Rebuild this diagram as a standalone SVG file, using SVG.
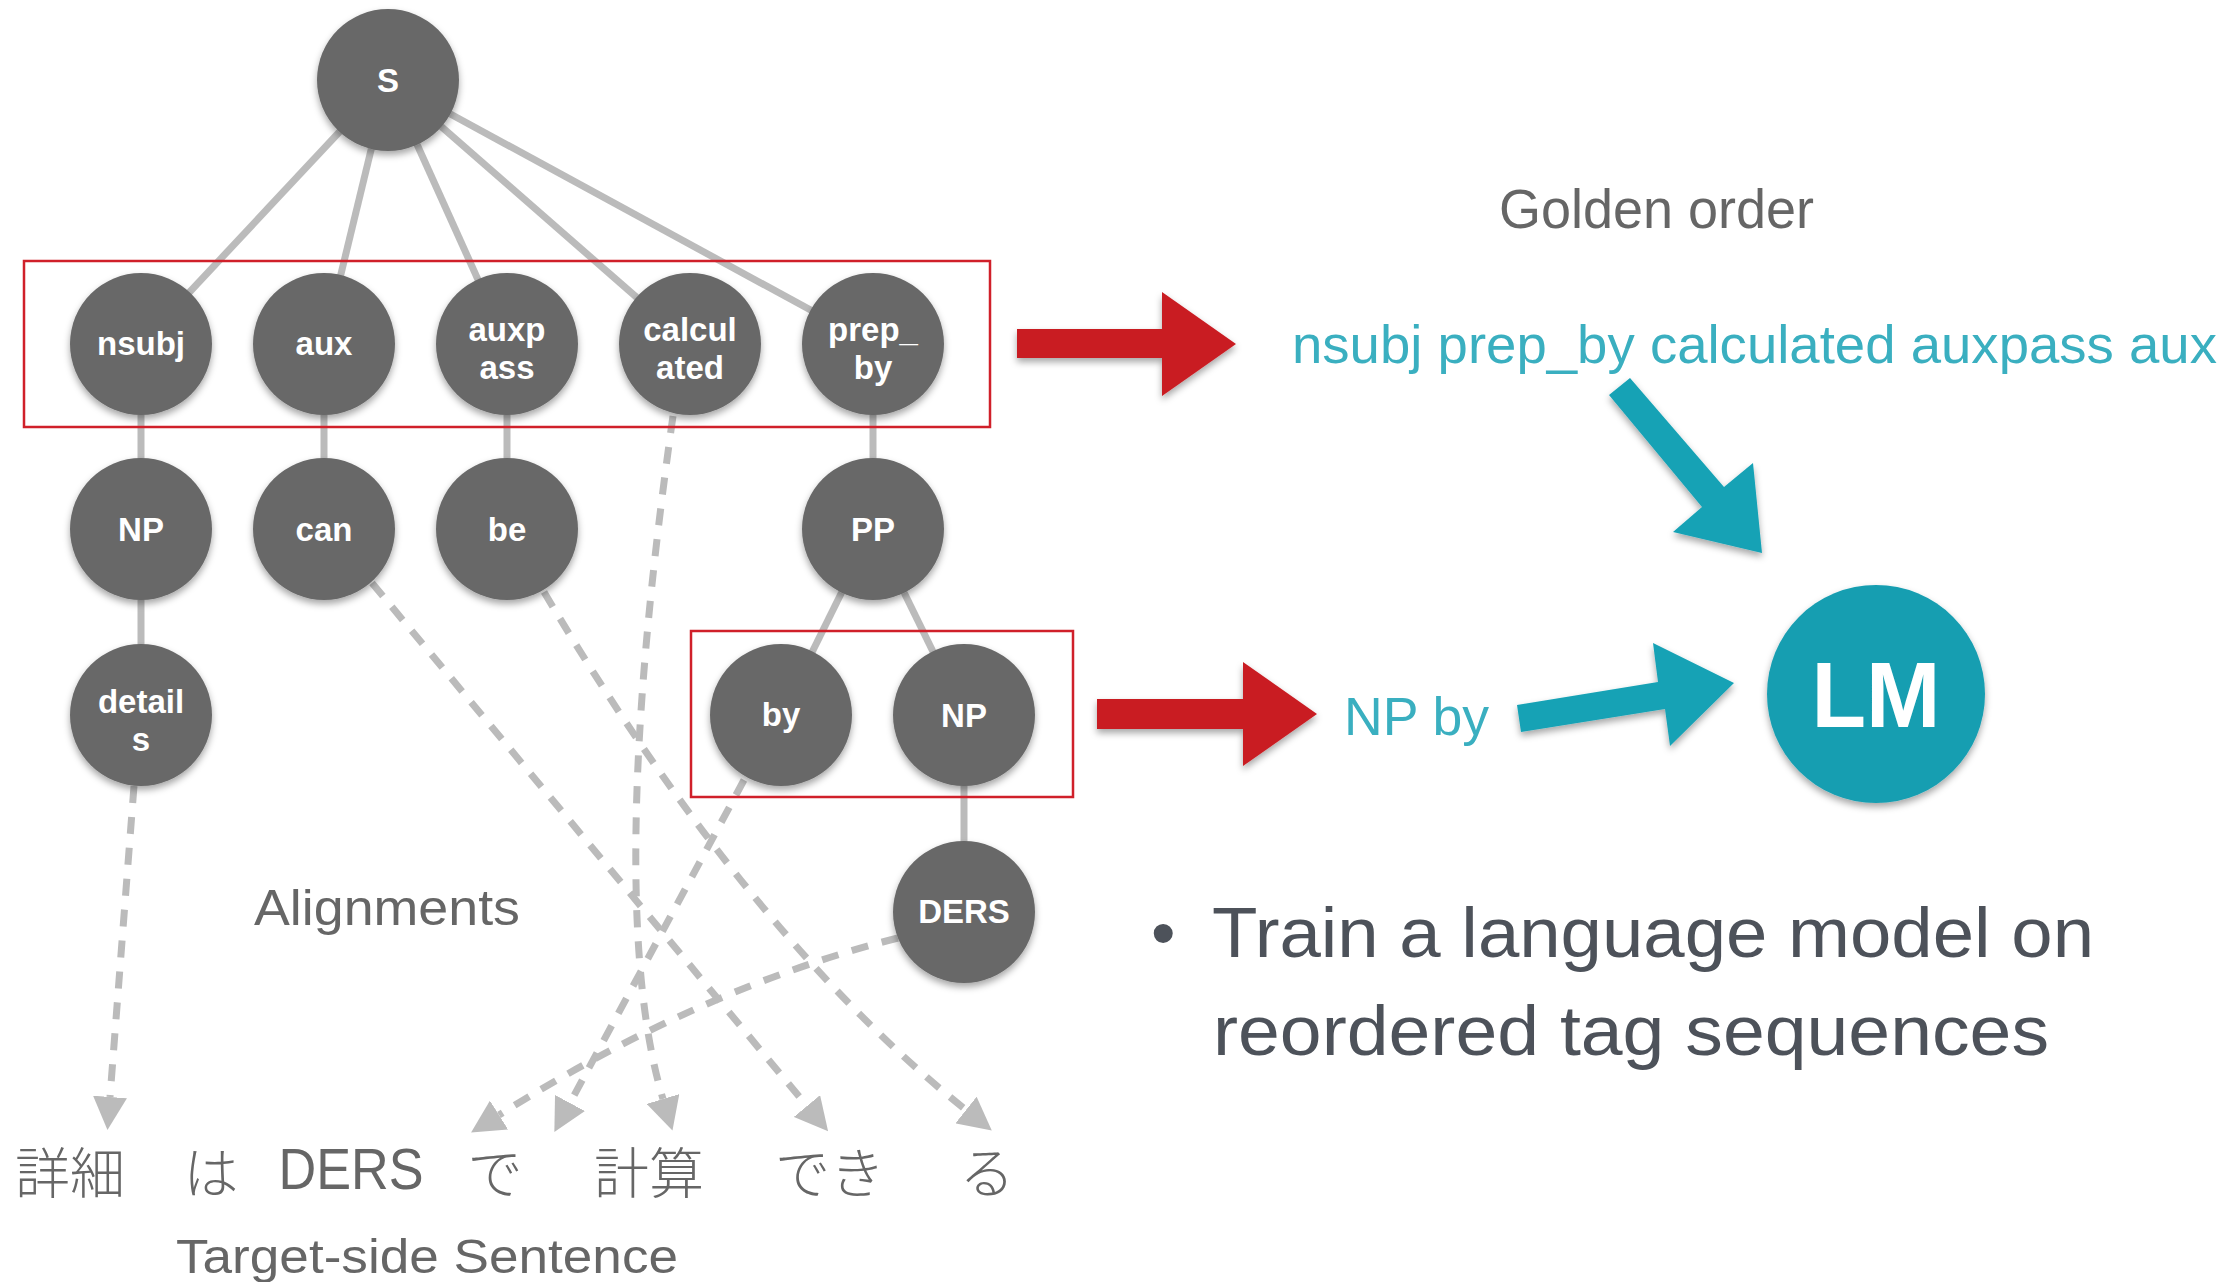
<svg xmlns="http://www.w3.org/2000/svg" width="2239" height="1282" viewBox="0 0 2239 1282">
<style>
.node circle{fill:#686868;filter:url(#sh);}
.lbl{font-family:"Liberation Sans",Arial,sans-serif;font-weight:bold;font-size:33px;fill:#ffffff;text-anchor:middle;}
.edge{stroke:#bbbbbb;stroke-width:7;fill:none;}
.align{stroke:#bbbbbb;stroke-width:7;fill:none;stroke-dasharray:17 14;marker-end:url(#ah);}
.box{fill:none;stroke:#d0202a;stroke-width:2.5;}
.gray{font-family:"Liberation Sans",Arial,sans-serif;fill:#666666;}
.cjk{font-family:"Noto Sans CJK JP","Liberation Sans",sans-serif;font-weight:300;fill:#666666;font-size:55px;text-anchor:middle;}
.teal{font-family:"Liberation Sans",Arial,sans-serif;fill:#3aafc0;}
.red{fill:#c91c23;filter:url(#sh);}
.tarrow{fill:#16a2b5;filter:url(#sh);}
.bullet{font-family:"Liberation Sans",Arial,sans-serif;fill:#4d525a;font-size:70px;}
</style>
<defs>
<filter id="sh" x="-20%" y="-20%" width="140%" height="150%">
<feDropShadow dx="0" dy="4" stdDeviation="3.5" flood-color="#000000" flood-opacity="0.35"/>
</filter>
<marker id="ah" markerUnits="userSpaceOnUse" markerWidth="34" markerHeight="34" refX="0" refY="17" orient="auto">
<path d="M0,0 L33,17 L0,34 z" fill="#bbbbbb"/>
</marker>
</defs>
<rect width="2239" height="1282" fill="#ffffff"/>

<g id="connectors">
<line class="edge" x1="388" y1="80" x2="141" y2="344"/>
<line class="edge" x1="388" y1="80" x2="324" y2="344"/>
<line class="edge" x1="388" y1="80" x2="507" y2="344"/>
<line class="edge" x1="388" y1="80" x2="690" y2="344"/>
<line class="edge" x1="388" y1="80" x2="873" y2="344"/>
<line class="edge" x1="141" y1="344" x2="141" y2="529"/>
<line class="edge" x1="324" y1="344" x2="324" y2="529"/>
<line class="edge" x1="507" y1="344" x2="507" y2="529"/>
<line class="edge" x1="873" y1="344" x2="873" y2="529"/>
<line class="edge" x1="141" y1="529" x2="141" y2="715"/>
<line class="edge" x1="873" y1="529" x2="781" y2="715"/>
<line class="edge" x1="873" y1="529" x2="964" y2="715"/>
<line class="edge" x1="964" y1="715" x2="964" y2="912"/>
<path class="align" d="M134,786 L110,1097"/>
<path class="align" d="M372,583 L807,1106"/>
<path class="align" d="M544,592 Q749,937 966,1110"/>
<path class="align" d="M673,416 Q604,902 663,1099"/>
<path class="align" d="M744,780 L570,1103"/>
<path class="align" d="M898,938 Q701.5,987.5 499,1115"/>
</g>

<g id="node-S" class="node"><circle cx="388" cy="80" r="71"/><text class="lbl" x="388" y="92">S</text></g>
<g id="node-nsubj" class="node"><circle cx="141" cy="344" r="71"/><text class="lbl" x="141" y="355">nsubj</text></g>
<g id="node-aux" class="node"><circle cx="324" cy="344" r="71"/><text class="lbl" x="324" y="355">aux</text></g>
<g id="node-auxpass" class="node"><circle cx="507" cy="344" r="71"/><text class="lbl" x="507" y="341">auxp</text><text class="lbl" x="507" y="379">ass</text></g>
<g id="node-calculated" class="node"><circle cx="690" cy="344" r="71"/><text class="lbl" x="690" y="341">calcul</text><text class="lbl" x="690" y="379">ated</text></g>
<g id="node-prep_by" class="node"><circle cx="873" cy="344" r="71"/><text class="lbl" x="873" y="341">prep_</text><text class="lbl" x="873" y="379">by</text></g>
<g id="node-NP1" class="node"><circle cx="141" cy="529" r="71"/><text class="lbl" x="141" y="541">NP</text></g>
<g id="node-can" class="node"><circle cx="324" cy="529" r="71"/><text class="lbl" x="324" y="541">can</text></g>
<g id="node-be" class="node"><circle cx="507" cy="529" r="71"/><text class="lbl" x="507" y="541">be</text></g>
<g id="node-PP" class="node"><circle cx="873" cy="529" r="71"/><text class="lbl" x="873" y="541">PP</text></g>
<g id="node-details" class="node"><circle cx="141" cy="715" r="71"/><text class="lbl" x="141" y="713">detail</text><text class="lbl" x="141" y="751">s</text></g>
<g id="node-by" class="node"><circle cx="781" cy="715" r="71"/><text class="lbl" x="781" y="726">by</text></g>
<g id="node-NP2" class="node"><circle cx="964" cy="715" r="71"/><text class="lbl" x="964" y="727">NP</text></g>
<g id="node-DERS" class="node"><circle cx="964" cy="912" r="71"/><text class="lbl" x="964" y="923">DERS</text></g>

<rect class="box" x="24" y="261" width="966" height="166"/>
<rect class="box" x="691" y="631" width="382" height="166"/>

<polygon class="red" points="1017,329 1162,329 1162,292 1236,344 1162,396 1162,358 1017,358"/>
<polygon class="red" points="1097,699 1243,699 1243,662 1317,714 1243,766 1243,729 1097,729"/>
<polygon class="tarrow" points="1630,378 1724,487 1753,463 1762,553 1673,532 1702,507 1609,395"/>
<polygon class="tarrow" points="1517,705 1658,682 1653,643 1734,683 1670,746 1665,709 1521,732"/>

<g id="node-LM"><circle cx="1876" cy="694" r="109" fill="#169eb1" filter="url(#sh)"/><text x="1876" y="727" font-family="Liberation Sans, Arial, sans-serif" font-weight="bold" font-size="92" fill="#ffffff" text-anchor="middle" textLength="129" lengthAdjust="spacingAndGlyphs">LM</text></g>

<text class="gray" x="1499" y="228" font-size="55" textLength="315" lengthAdjust="spacingAndGlyphs">Golden order</text>
<text class="teal" x="1292" y="363" font-size="53" textLength="925" lengthAdjust="spacingAndGlyphs">nsubj prep_by calculated auxpass aux</text>
<text class="teal" x="1344" y="735" font-size="53" textLength="145" lengthAdjust="spacingAndGlyphs">NP by</text>
<text class="gray" x="254" y="925" font-size="50" textLength="266" lengthAdjust="spacingAndGlyphs">Alignments</text>

<text class="bullet" x="1151" y="957">•</text>
<text class="bullet" x="1212" y="957" textLength="882" lengthAdjust="spacingAndGlyphs">Train a language model on</text>
<text class="bullet" x="1213" y="1055" textLength="836" lengthAdjust="spacingAndGlyphs">reordered tag sequences</text>

<text class="cjk" x="70" y="1193">詳細</text>
<text class="cjk" x="211" y="1193">は</text>
<text class="gray" x="351" y="1189" font-size="57" text-anchor="middle" textLength="145" lengthAdjust="spacingAndGlyphs">DERS</text>
<text class="cjk" x="495" y="1193">で</text>
<text class="cjk" x="649" y="1193">計算</text>
<text class="cjk" x="830" y="1193">でき</text>
<text class="cjk" x="987" y="1193">る</text>
<text class="gray" x="176" y="1273" font-size="48" textLength="502" lengthAdjust="spacingAndGlyphs">Target-side Sentence</text>
</svg>
